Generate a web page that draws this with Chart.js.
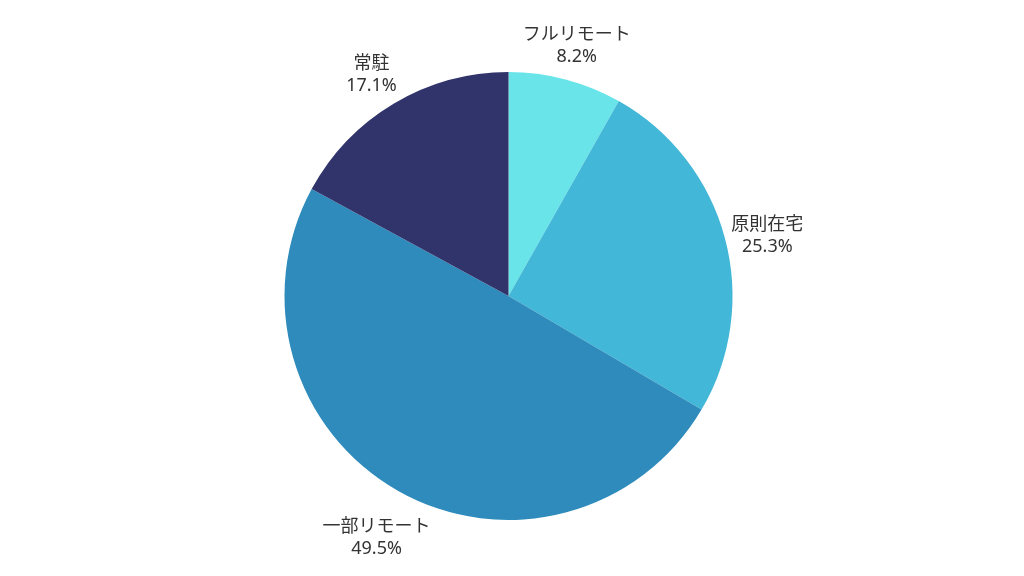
<!DOCTYPE html>
<html>
<head>
<meta charset="utf-8">
<script src="https://cdn.jsdelivr.net/npm/chart.js@4"></script>
<style>
  html, body { margin: 0; padding: 0; background: #ffffff; }
  #wrap { width: 1024px; height: 576px; }
</style>
</head>
<body>
<div id="wrap"><canvas id="c" width="1024" height="576"></canvas></div>
<script>
const categories = ['フルリモート', '原則在宅', '一部リモート', '常駐'];
const shares = [8.2, 25.3, 49.5, 17.1];
const percentLabels = ['8.2%', '25.3%', '49.5%', '17.1%'];
const sliceColors = ['#69E5E9', '#42B7D7', '#2E8BBB', '#30346B'];

const outsideLabels = {
  id: 'outsideLabels',
  afterDatasetsDraw(chart) {
    const ctx = chart.ctx;
    const meta = chart.getDatasetMeta(0);
    ctx.save();
    ctx.font = '18px "Noto Sans", "Noto Sans CJK JP", sans-serif';
    ctx.fillStyle = '#333333';
    ctx.textAlign = 'center';
    ctx.textBaseline = 'middle';
    meta.data.forEach((arc, i) => {
      const p = arc.getProps(['x', 'y', 'startAngle', 'endAngle', 'outerRadius'], true);
      const mid = (p.startAngle + p.endAngle) / 2;
      const r = p.outerRadius + 44;
      const cx = p.x + Math.cos(mid) * r;
      const cy = p.y + Math.sin(mid) * r + 9;
      ctx.fillText(categories[i], cx, cy - 11);
      ctx.fillText(percentLabels[i], cx, cy + 11);
    });
    ctx.restore();
  }
};

new Chart(document.getElementById('c'), {
  type: 'pie',
  data: {
    labels: categories,
    datasets: [{
      data: shares,
      backgroundColor: sliceColors,
      borderColor: '#ffffff',
      borderWidth: 0
    }]
  },
  options: {
    responsive: false,
    animation: false,
    layout: { padding: { top: 72, bottom: 56, left: 0, right: 7 } },
    plugins: {
      legend: { display: false },
      tooltip: { enabled: false }
    }
  },
  plugins: [outsideLabels]
});
</script>
</body>
</html>
